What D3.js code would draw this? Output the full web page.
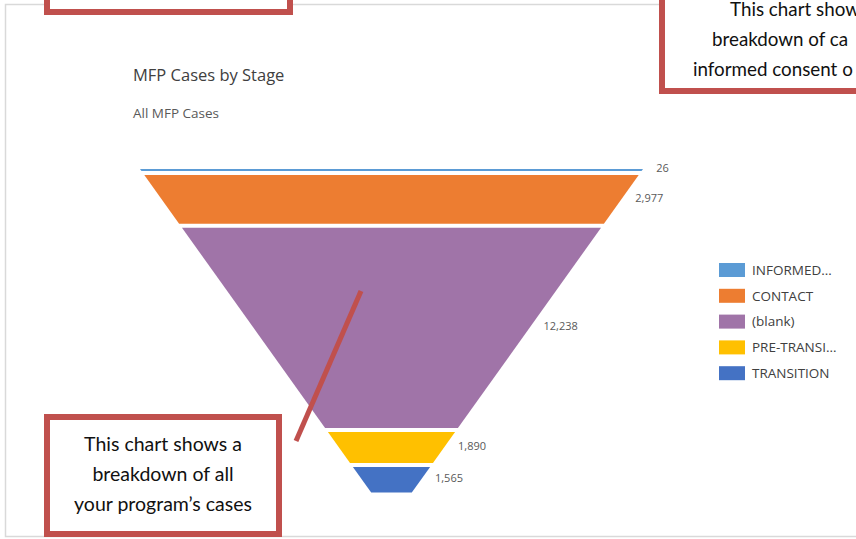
<!DOCTYPE html>
<html>
<head>
<meta charset="utf-8">
<script src="https://cdn.jsdelivr.net/npm/d3@7"></script>
<style>
  body { margin:0; background:#fff; overflow:hidden; }
  svg { display:block; }
</style>
</head>
<body>
<svg id="chart" width="856" height="539"></svg>
<script>
//
//  funnel of MFP cases by stage, with the callout boxes on top
//
const stages = ["INFORMED CONSENT", "CONTACT", "(blank)", "PRE-TRANSITION", "TRANSITION"];
const legendLabels = ["INFORMED\u2026", "CONTACT", "(blank)", "PRE-TRANSI\u2026", "TRANSITION"];
const cases = [26, 2977, 12238, 1890, 1565];
const stageColors = ["#5b9bd5", "#ed7d31", "#a074a8", "#ffc000", "#4472c4"];

const title = "MFP Cases by Stage";
const subtitle = "All MFP Cases";
const noteLeft = ["This chart shows a", "breakdown of all", "your program\u2019s cases"];
// right callout runs off the page in the picture, only the visible part is kept
const noteRight = ["This chart show", "breakdown of ca", "informed consent o"];

let svg = d3.select("#chart");
let fmt = d3.format(",");

// chart panel frame
svg.append("rect")
  .attr("x", 5.5).attr("y", 4.5)
  .attr("width", 900).attr("height", 532)
  .attr("fill", "#fff")
  .attr("stroke", "#d9d9d9")
  .attr("stroke-width", 1.5);

svg.append("text")
  .attr("x", 133).attr("y", 81)
  .attr("font-family", "Open Sans")
  .attr("font-size", 16.5)
  .attr("fill", "#404040")
  .text(title);
svg.append("text")
  .attr("x", 133).attr("y", 118)
  .attr("font-family", "Open Sans")
  .attr("font-size", 13.5)
  .attr("fill", "#595959")
  .text(subtitle);

// funnel geometry
let fTop = 169, fBottom = 493, cx = 391.5, gap = 4, minH = 2;
let n = cases.length;
let hScale = d3.scaleLinear()
  .domain([0, d3.sum(cases)])
  .range([0, fBottom - fTop - gap*(n-1) - minH]);
let wScale = d3.scaleLinear()
  .domain([fTop, fBottom])
  .range([503, 40]);

let segs = [];
let y = fTop;
for (let i=0;i<n;i++) {
  let h = Math.max(hScale(cases[i]), minH);
  segs.push({ name: stages[i], value: cases[i], color: stageColors[i], y0: y, y1: y + h });
  y += h + gap;
}

let funnel = svg.append("g");
funnel.selectAll("polygon")
  .data(segs)
  .enter()
  .append("polygon")
  .attr("points", function(d) {
    let a = wScale(d.y0)/2, b = wScale(d.y1)/2;
    return [[cx-a, d.y0], [cx+a, d.y0], [cx+b, d.y1], [cx-b, d.y1]].join(" ");
  })
  .attr("fill", d => d.color);

funnel.selectAll("text")
  .data(segs)
  .enter()
  .append("text")
  .attr("x", d => cx + wScale((d.y0+d.y1)/2)/2 + 14)
  .attr("y", d => (d.y0+d.y1)/2 - 1.5)
  .attr("dy", "0.35em")
  .attr("font-family", "Open Sans")
  .attr("font-size", 11)
  .attr("fill", "#595959")
  .text(d => fmt(d.value));

// legend
let legend = svg.append("g").attr("transform", "translate(719,263)");
let rows = legend.selectAll("g")
  .data(legendLabels)
  .enter()
  .append("g")
  .attr("transform", (d, i) => "translate(0," + (i*25.8) + ")");
rows.append("rect")
  .attr("width", 26).attr("height", 14)
  .attr("fill", (d, i) => stageColors[i]);
rows.append("text")
  .attr("x", 33).attr("y", 7)
  .attr("dy", "0.35em")
  .attr("font-family", "Open Sans")
  .attr("font-size", 13.5)
  .attr("fill", "#404040")
  .text(d => d);

// callouts
let red = "#c0504d";
svg.append("line")
  .attr("x1", 361).attr("y1", 291)
  .attr("x2", 296).attr("y2", 441)
  .attr("stroke", red)
  .attr("stroke-width", 5);

function callout(x, y, w, h, lines, tx, anchor, ty, fsize) {
  svg.append("rect")
    .attr("x", x).attr("y", y)
    .attr("width", w).attr("height", h)
    .attr("fill", "#fff")
    .attr("stroke", red)
    .attr("stroke-width", 6);
  svg.append("g").selectAll("text")
    .data(lines)
    .enter()
    .append("text")
    .attr("x", (d, i) => Array.isArray(tx) ? tx[i] : tx)
    .attr("y", (d, i) => ty + i*30)
    .attr("text-anchor", anchor)
    .attr("font-family", "Lato")
    .attr("font-size", fsize)
    .attr("fill", "#111")
    .text(d => d);
}
callout(47, -40, 243, 52, [], 0, "start", 0, 19.5);
callout(662, -40, 260, 131, noteRight, [730, 712, 693], "start", 16, 18.8);
callout(47, 417, 232, 117, noteLeft, 163, "middle", 451, 19.5);
</script>
</body>
</html>
